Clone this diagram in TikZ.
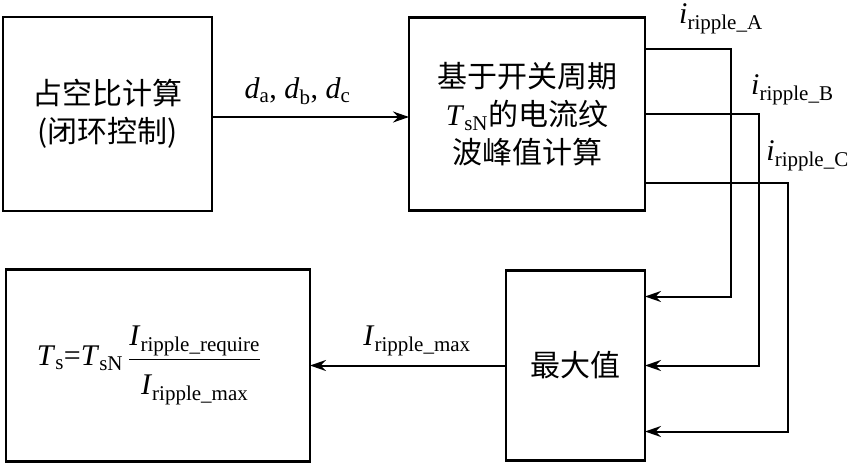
\documentclass[tikz,border=0pt]{standalone}
\usepackage{fontspec}
\setmainfont{Liberation Serif}
\newfontfamily\cjk{Noto Sans CJK SC}
\usetikzlibrary{positioning,arrows.meta,calc}
\newcommand{\symsub}[2]{{\rmfamily\textit{#1}\textsubscript{#2}}}

\begin{document}
\begin{tikzpicture}[x=1pt, y=-1pt,
  every node/.style={font=\fontsize{30}{34}\selectfont},
  blk/.style={rectangle, draw=black, line width=2.6pt, outer sep=0pt,
              align=center, font=\cjk\fontsize{30}{38}\selectfont},
  arrowstyle/.style={-{Stealth[length=16pt,width=11pt]}, line width=2pt},
  lbl/.style={inner sep=1pt}
]
  \useasboundingbox (0,0) rectangle (852,464);
  \node[blk, minimum width=209pt, minimum height=194pt] (duty) at (107.5,114) {占空比计算\\(闭环控制)};
  \node[blk, minimum width=236pt, minimum height=193pt, right=197pt of duty] (calc) {基于开关周期\\\symsub{T}{sN}的电流纹\\波峰值计算};
  \node[blk, minimum width=139pt, minimum height=190pt, below left=60pt and 0pt of calc.south east] (maxv) {最大值};
  \node[blk, minimum width=304pt, minimum height=192pt, left=196pt of maxv, font=\fontsize{30}{34}\selectfont] (period)
    {\symsub{T}{s}=\symsub{T}{sN}\,$\displaystyle\frac{\mbox{\symsub{I}{ripple\_require}}\rule[-12pt]{0pt}{12pt}}{\rule{0pt}{34pt}\mbox{\symsub{I}{ripple\_max}}}$\hspace*{18pt}};

  \draw[arrowstyle] ([yshift=-3pt]duty.east) -- ([yshift=-3pt]calc.west) node[lbl, midway, above=10pt, xshift=-13pt] (dlbl)
    {\textit{d}\textsubscript{a}, \textit{d}\textsubscript{b}, \textit{d}\textsubscript{c}};
  \draw[arrowstyle] (maxv) -- (period) node[lbl, midway, above=8pt, xshift=9pt] (mlbl) {\symsub{I}{ripple\_max}};

  % ripple currents into the max block
  \draw[arrowstyle] ([yshift=65.5pt]calc.east) -- ++(86,0) coordinate (ca) |- ([yshift=69pt]maxv.east);
  \draw[arrowstyle] (calc.east) -- ++(114,0) coordinate (cb) |- (maxv.east);
  \draw[arrowstyle] ([yshift=-68.5pt]calc.east) -- ++(143,0) coordinate (cc) |- ([yshift=-66pt]maxv.east);

  \node[lbl, anchor=west] (la) at ($(ca)+(-53,-30)$) {\symsub{i}{ripple\_A}};
  \node[lbl, anchor=west] (lb) at ($(cb)+(-9,-24)$) {\symsub{i}{ripple\_B}};
  \node[lbl, anchor=east] (lc) at ($(cc)+(62,-27)$) {\symsub{i}{ripple\_C}};
\end{tikzpicture}
\end{document}
